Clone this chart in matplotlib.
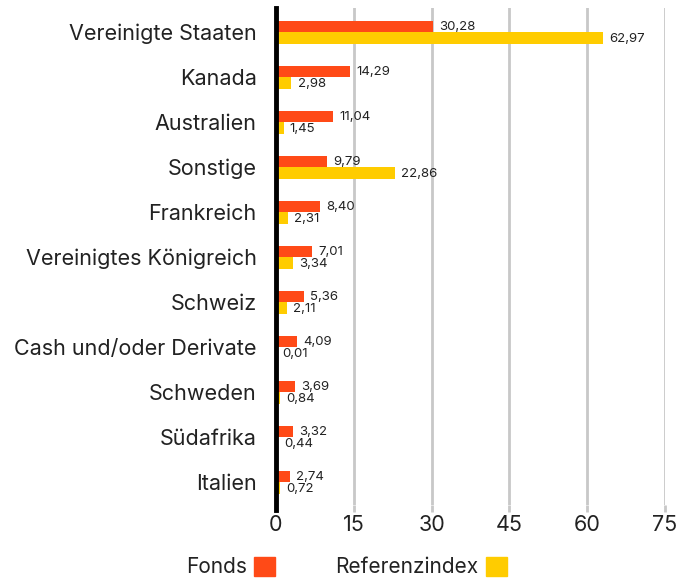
import matplotlib.pyplot as plt
from matplotlib.patches import Patch
import numpy as np

plt.rcParams['font.family'] = ['Inter', 'DejaVu Sans']

laender = ['Vereinigte Staaten', 'Kanada', 'Australien', 'Sonstige', 'Frankreich',
           'Vereinigtes Königreich', 'Schweiz', 'Cash und/oder Derivate', 'Schweden',
           'Südafrika', 'Italien']
fonds = [30.28, 14.29, 11.04, 9.79, 8.40, 7.01, 5.36, 4.09, 3.69, 3.32, 2.74]
referenz = [62.97, 2.98, 1.45, 22.86, 2.31, 3.34, 2.11, 0.01, 0.84, 0.44, 0.72]
x_ticks = [0, 15, 30, 45, 60, 75]

c_fonds = '#FF4A17'
c_ref = '#FFCC00'

fig = plt.figure(figsize=(6.9, 5.83), dpi=100)
ax = fig.add_axes([0.4, 0.134, 0.5638, 0.852])

y = np.arange(len(laender))
h = 0.255
ax.barh(y - h / 2, fonds, height=h, color=c_fonds, zorder=3)
ax.barh(y + h / 2, referenz, height=h, color=c_ref, zorder=3)

fmt = lambda v: f'{v:.2f}'.replace('.', ',')
for i in range(len(laender)):
    ax.annotate(fmt(fonds[i]), (fonds[i], y[i] - h / 2), xytext=(4.5, -0.5),
                textcoords='offset points', va='center', ha='left', fontsize=9.5,
                color='#222222', zorder=4)
    ax.annotate(fmt(referenz[i]), (referenz[i], y[i] + h / 2), xytext=(4.5, -1),
                textcoords='offset points', va='center', ha='left', fontsize=9.5,
                color='#222222', zorder=4)

ax.set_xlim(0, 75)
ax.set_ylim(10.5, -0.53)
ax.set_yticks(y)
ax.set_yticklabels(laender, fontsize=15.5, color='#222222')
ax.set_xticks(x_ticks)
ax.set_xticklabels([str(t) for t in x_ticks], fontsize=15.5, color='#222222')
ax.tick_params(axis='y', length=0, pad=14)
ax.tick_params(axis='x', length=5, width=2, color='#c8c8c8', pad=2)
ax.grid(axis='x', color='#c8c8c8', linewidth=2, zorder=0)
for s in ['top', 'right', 'bottom']:
    ax.spines[s].set_visible(False)
ax.spines['left'].set_linewidth(3.5)
ax.spines['left'].set_color('black')
ax.spines['left'].set_zorder(5)
ax.spines['left'].set_bounds(10.62, -0.53)

handles = [Patch(color=c_fonds, label='Fonds'), Patch(color=c_ref, label='Referenzindex')]
fig.legend(handles=handles, loc='center', bbox_to_anchor=(0.502, 0.027), ncol=2,
           frameon=False, markerfirst=False, fontsize=15, handlelength=1.0,
           handleheight=1.0, handletextpad=0.35, columnspacing=2.9, labelcolor='#222222')

fig.savefig('out.png', dpi=100)
